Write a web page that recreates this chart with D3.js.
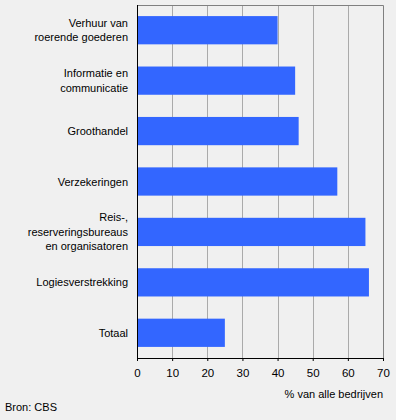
<!DOCTYPE html>
<html>
<head>
<meta charset="utf-8">
<script src="https://cdn.jsdelivr.net/npm/d3@7"></script>
<style>
  body { margin:0; background:#f0f0f0; }
  text { font-family: Arial, "Liberation Sans", sans-serif; font-size:11px; fill:#000; }
</style>
</head>
<body>
<div id="chart"></div>
<script>
// categories (lines split for wrapping) and values
var categories = [
    ["Verhuur van", "roerende goederen"],
    ["Informatie en", "communicatie"],
    ["Groothandel"],
    ["Verzekeringen"],
    ["Reis-,", "reserveringsbureaus", "en organisatoren"],
    ["Logiesverstrekking"],
    ["Totaal"]
];
var values = [40, 45, 46, 57, 65, 66, 25];
var xTicks = [0, 10, 20, 30, 40, 50, 60, 70];
var xTitle = "% van alle bedrijven";
var source = "Bron: CBS";

var margin = {left:137, right:13, top:5, bottom:62},
    width = 396 - margin.left - margin.right,
    height = 420 - margin.top - margin.bottom;

var svg = d3.select("#chart").append("svg")
    .attr("width", 396)
    .attr("height", 420);

svg.append("rect").attr("width", 396).attr("height", 420).attr("fill", "#f0f0f0");

var g = svg.append("g")
    .attr("transform", "translate(" + margin.left + "," + margin.top + ")");

var x = d3.scaleLinear().domain([0, 70]).range([0, width]);
var y = d3.scaleBand()
    .domain(d3.range(categories.length))
    .range([0, height])
    .paddingInner(0.44)
    .paddingOuter(0.22);

// gridlines
g.selectAll(".grid").data(xTicks.slice(1, -1)).enter().append("line")
    .attr("x1", function(d){ return Math.round(x(d)) + 0.5; })
    .attr("x2", function(d){ return Math.round(x(d)) + 0.5; })
    .attr("y1", 0).attr("y2", height)
    .attr("stroke", "#aaaaaa");

// frame top/right
g.append("path")
    .attr("d", "M0.5,0.5H" + (Math.round(width) + 0.5) + "V" + height)
    .attr("fill", "none")
    .attr("stroke", "#808080")
    .attr("stroke-width", 1);

// bars
g.selectAll(".bar").data(values).enter().append("rect")
    .attr("x", 0)
    .attr("y", function(d, i){ return y(i); })
    .attr("width", function(d){ return x(d); })
    .attr("height", y.bandwidth())
    .attr("fill", "#3366ff");

// x axis
var xAxis = g.append("g")
    .attr("transform", "translate(0," + height + ")")
    .call(d3.axisBottom(x).tickValues(xTicks).tickSize(3).tickPadding(8));
xAxis.select(".domain").attr("stroke", "#000");
xAxis.selectAll("text").style("font-size", "11.5px");

// y axis line
g.append("line")
    .attr("x1", 0.5).attr("x2", 0.5)
    .attr("y1", 0).attr("y2", height + 3)
    .attr("stroke", "#000");

// category labels
var labels = g.selectAll(".lab").data(categories).enter().append("text")
    .attr("text-anchor", "end")
    .attr("y", function(d, i){ return y(i) + y.bandwidth() / 2; });
labels.each(function(lines){
    var t = d3.select(this);
    var n = lines.length, lh = 14.5;
    lines.forEach(function(l, k){
        t.append("tspan")
            .attr("x", -9)
            .attr("dy", k === 0 ? ((-(n - 1) / 2) * lh + 4) : lh)
            .text(l);
    });
});

// axis title
g.append("text")
    .attr("x", width)
    .attr("y", height + 40)
    .attr("text-anchor", "end")
    .text(xTitle);

svg.append("text")
    .attr("x", 5)
    .attr("y", 411)
    .text(source);
</script>
</body>
</html>
